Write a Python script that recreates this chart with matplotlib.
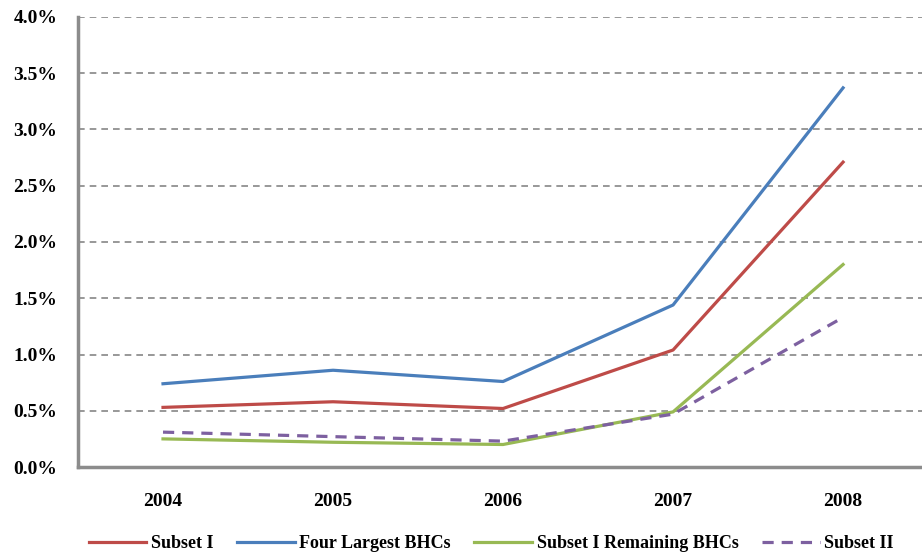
import matplotlib.pyplot as plt
from matplotlib.ticker import FuncFormatter

plt.rcParams['font.family'] = ['Liberation Serif', 'DejaVu Serif']

years = ['2004', '2005', '2006', '2007', '2008']
subset_1 = [0.53, 0.58, 0.52, 1.04, 2.71]
four_largest = [0.74, 0.86, 0.76, 1.44, 3.37]
subset_1_remaining = [0.25, 0.22, 0.20, 0.49, 1.80]
subset_2 = [0.31, 0.27, 0.23, 0.47, 1.33]

fig = plt.figure(figsize=(9.22, 5.53), dpi=100)
ax = fig.add_axes([0.0846, 0.1555, 0.922, 0.8138])

x = range(len(years))
ax.plot(x, subset_1, color='#be4b48', lw=2.3, label='Subset I')
ax.plot(x, four_largest, color='#4a7ebb', lw=2.3, label='Four Largest BHCs')
ax.plot(x, subset_1_remaining, color='#98b954', lw=2.3, label='Subset I Remaining BHCs')
ax.plot(x, subset_2, color='#7d60a0', lw=2.3, ls=(0, (3.5, 2.5)), label='Subset II')

ax.set_xlim(-0.5, 4.5)
ax.set_ylim(0, 4.0)
ax.set_yticks([i * 0.5 for i in range(9)])
ax.yaxis.set_major_formatter(FuncFormatter(lambda v, p: f'{v:.1f}%'))
ax.set_xticks(list(x))
ax.set_xticklabels(years)

ax.grid(axis='y', color='#868686', ls=(0, (4, 3)), lw=1.2)
ax.set_axisbelow(True)
for s in ['top', 'right']:
    ax.spines[s].set_visible(False)
for s in ['left', 'bottom']:
    ax.spines[s].set_color('#8c8c8c')
    ax.spines[s].set_linewidth(2.5)

ax.tick_params(length=0, labelsize=14)
ax.tick_params(axis='x', pad=19)
ax.tick_params(axis='y', pad=15)
for lbl in ax.get_xticklabels() + ax.get_yticklabels():
    lbl.set_fontweight('bold')

leg = ax.legend(loc='upper left', bbox_to_anchor=(0.004, -0.135), ncol=4, frameon=False,
                prop={'weight': 'bold', 'size': 13}, handlelength=3.2,
                columnspacing=1.3, handletextpad=0.25, borderaxespad=0)

fig.savefig('out.png', dpi=100)
